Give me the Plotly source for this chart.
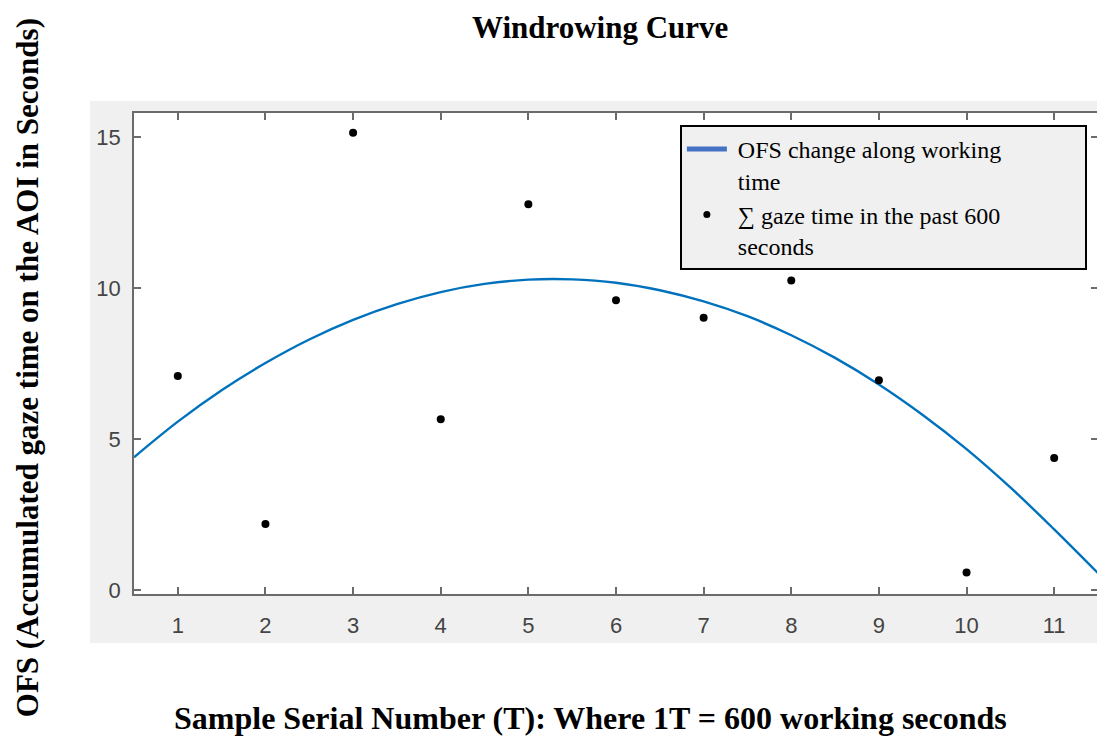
import plotly.graph_objects as go

# Data
sample_x = [1, 2, 3, 4, 5, 6, 7, 8, 9, 10, 11]
gaze_y = [7.09, 2.19, 15.15, 5.66, 12.78, 9.6, 9.02, 10.25, 6.95, 0.58, 4.37]

curve_x = [0.5, 1, 1.5, 2, 2.5, 3, 3.5, 4, 4.5, 5, 5.5, 6, 6.5, 7, 7.5, 8, 8.5, 9, 9.5, 10, 10.5, 11, 11.5]
curve_y = [4.4, 5.58, 6.62, 7.52, 8.30, 8.95, 9.47, 9.87, 10.14, 10.28, 10.29, 10.18,
           9.93, 9.56, 9.07, 8.44, 7.69, 6.81, 5.80, 4.67, 3.40, 2.01, 0.56]

x_ticks = [1, 2, 3, 4, 5, 6, 7, 8, 9, 10, 11]
y_ticks = [0, 5, 10, 15]

serif = "Liberation Serif, Times New Roman, serif"
sans = "Liberation Sans, Arial, sans-serif"
sp = "\u00a0"
pad = sp * 13

fig = go.Figure()
fig.add_trace(go.Scatter(x=curve_x, y=curve_y, mode="lines",
                         line=dict(color="#0072BD", width=2.4, shape="spline"),
                         showlegend=False, hoverinfo="skip"))
fig.add_trace(go.Scatter(x=sample_x, y=gaze_y, mode="markers",
                         marker=dict(color="black", size=8),
                         showlegend=False))
# legend entries
fig.add_trace(go.Scatter(x=[None], y=[None], mode="lines",
                         line=dict(color="#4472C4", width=5),
                         name=sp + "OFS change along working" + pad + "<br>" + sp + "time"))
fig.add_trace(go.Scatter(x=[None], y=[None], mode="markers",
                         marker=dict(color="black", size=7),
                         name=sp + "∑ gaze time in the past 600" + pad + "<br>" + sp + "seconds"))

axis_common = dict(showline=True, linecolor="#6b6b6b", linewidth=1.5, mirror="ticks",
                   ticks="inside", ticklen=7, tickcolor="#6b6b6b", tickwidth=1.5,
                   showgrid=False, zeroline=False,
                   tickfont=dict(family=sans, size=22, color="#444444"))

fig.update_xaxes(range=[0.5, 11.5], tickvals=x_ticks, ticklabelstandoff=11, **axis_common)
fig.update_yaxes(range=[-0.13, 15.8], tickvals=y_ticks, ticklabelstandoff=7, **axis_common)

# grey figure panel and white axes area
fig.add_shape(type="rect", xref="paper", yref="paper",
              x0=-0.0455, x1=1.0052, y0=-0.102, y1=1.025,
              fillcolor="#f0f0f0", line=dict(width=0), layer="below")
fig.add_shape(type="rect", xref="paper", yref="paper",
              x0=0, x1=1, y0=0, y1=1,
              fillcolor="white", line=dict(width=0), layer="below")

W, H = 1097, 730
L, T = 126, 105
PW, PH = 966, 481


def px(xp):
    return (xp - 8 - L) / PW


def py(yp):
    return (T + PH - (yp - 8)) / PH


fig.update_layout(
    width=W, height=H,
    margin=dict(l=L, r=W - L - PW, t=T, b=H - T - PH),
    paper_bgcolor="white", plot_bgcolor="white",
    legend=dict(x=px(681), y=py(125), xanchor="left", yanchor="top",
                bgcolor="#f0f0f0", bordercolor="black", borderwidth=2,
                font=dict(family=serif, size=24, color="black"),
                tracegroupgap=0, itemwidth=40, valign="top"),
    annotations=[
        dict(text="<b>Windrowing Curve</b>", xref="paper", yref="paper",
             x=px(601), y=py(27), xanchor="center", yanchor="middle",
             showarrow=False, font=dict(family=serif, size=31, color="black")),
        dict(text="<b>Sample Serial Number (T): Where 1T = 600 working seconds</b>",
             xref="paper", yref="paper",
             x=px(591), y=py(718), xanchor="center", yanchor="middle",
             showarrow=False, font=dict(family=serif, size=32, color="black")),
        dict(text="<b>OFS (Accumulated gaze time on the AOI in Seconds)</b>",
             xref="paper", yref="paper", textangle=-90,
             x=px(27), y=py(368), xanchor="center", yanchor="middle",
             showarrow=False, font=dict(family=serif, size=31, color="black")),
    ],
)

fig.write_html("out.html")
